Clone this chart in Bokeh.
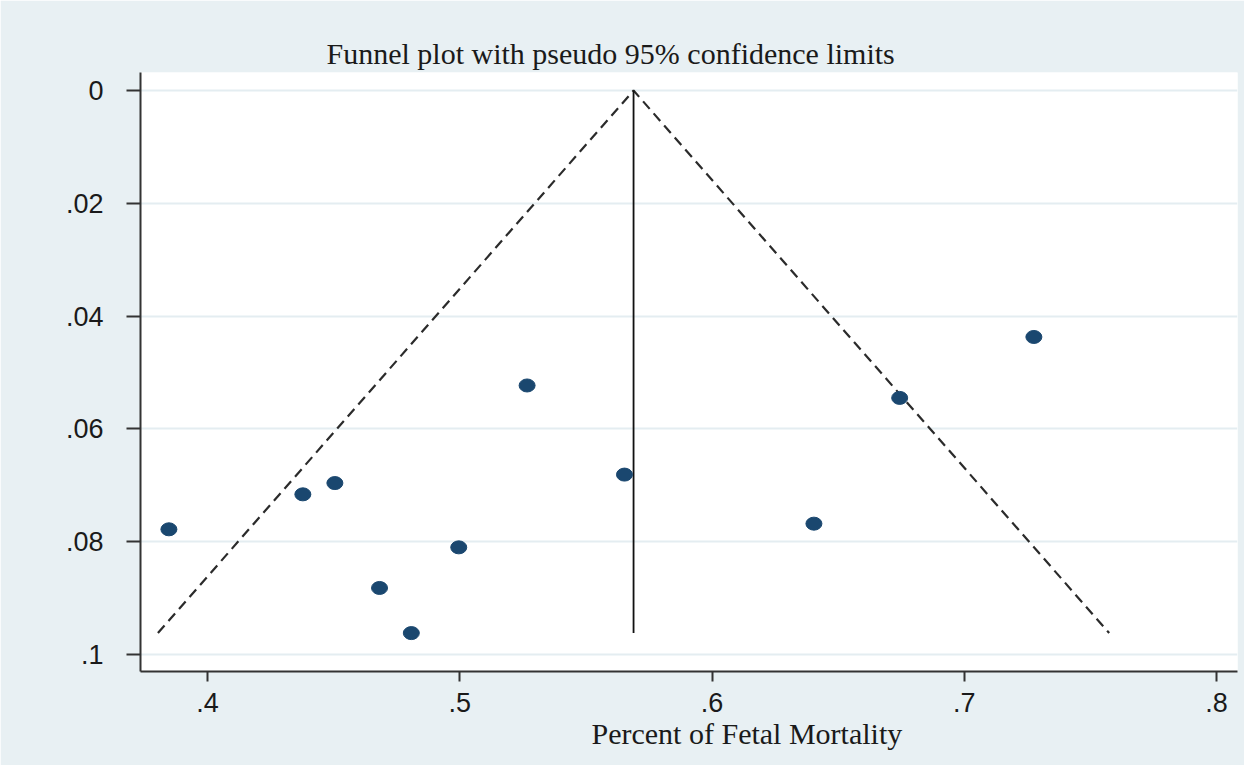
from bokeh.plotting import figure
from bokeh.models import Range1d, FixedTicker, Title
from bokeh.embed import file_html
from bokeh.resources import INLINE

# ---- data ----
effect = [0.3847, 0.4378, 0.4505, 0.4682, 0.4808, 0.4996, 0.5267, 0.5653, 0.6404, 0.6744, 0.7276]
se = [0.0778, 0.0716, 0.0696, 0.0882, 0.0962, 0.0810, 0.0523, 0.0681, 0.0768, 0.0545, 0.0437]
pooled = 0.5689
x_ticks = [0.4, 0.5, 0.6, 0.7, 0.8]
x_tick_labels = [".4", ".5", ".6", ".7", ".8"]
y_ticks = [0.0, 0.02, 0.04, 0.06, 0.08, 0.1]
y_tick_labels = ["0", ".02", ".04", ".06", ".08", ".1"]
title_text = "Funnel plot with pseudo 95% confidence limits"
x_label_text = "Percent of Fetal Mortality"

se_max = max(se)
lo_end = pooled - 1.96 * se_max
hi_end = pooled + 1.96 * se_max

BG = "#e8f0f3"
INK = "#1a1a1a"

p = figure(width=1244, height=765, output_backend="svg", toolbar_location=None,
           x_range=Range1d(0.37344, 0.80832), y_range=Range1d(0.10301, -0.003191),
           min_border_left=140, min_border_right=7, min_border_top=72, min_border_bottom=94)
p.title = None
p.background_fill_color = "white"
p.border_fill_color = BG
p.outline_line_color = None

# grid
p.xgrid.grid_line_color = None
p.ygrid.grid_line_color = "#e4edf1"
p.ygrid.grid_line_width = 2
p.ygrid.ticker = FixedTicker(ticks=y_ticks)

# axes
p.xaxis.ticker = FixedTicker(ticks=x_ticks)
p.yaxis.ticker = FixedTicker(ticks=y_ticks)
p.xaxis.major_label_overrides = dict(zip(x_ticks, x_tick_labels))
p.yaxis.major_label_overrides = dict(zip(y_ticks, y_tick_labels))
for ax in (p.xaxis[0], p.yaxis[0]):
    ax.axis_line_color = "#333333"
    ax.axis_line_width = 2
    ax.major_tick_line_color = "#333333"
    ax.major_tick_line_width = 2
    ax.major_tick_in = 0
    ax.minor_tick_line_color = None
    ax.major_label_text_font = "Liberation Sans"
    ax.major_label_text_font_size = "27px"
    ax.major_label_text_color = INK
p.xaxis.major_tick_out = 10
p.xaxis.major_label_standoff = 11
p.yaxis.major_tick_out = 14
p.yaxis.major_label_standoff = 23
p.yaxis.major_label_orientation = "horizontal"

# funnel lines
p.line([lo_end, pooled, hi_end], [se_max, 0, se_max], line_color="#2b2b2b",
       line_width=2.2, line_dash="10 6")
p.line([pooled, pooled], [0, se_max], line_color="#111111", line_width=1.8)

# studies
p.ellipse(x=effect, y=se, width=16, height=13, width_units="screen", height_units="screen",
          fill_color="#1a476f", line_color="#1a476f")

# title and x label
t = Title(text=title_text, align="left", offset=186, standoff=5,
          text_font="Liberation Serif", text_font_size="30px", text_font_style="normal",
          text_color=INK)
p.add_layout(t, "above")
xl = Title(text=x_label_text, align="left", offset=451, standoff=0,
           text_font="Liberation Serif", text_font_size="30px", text_font_style="normal",
           text_color=INK)
p.add_layout(xl, "below")

open("out.html", "w").write(file_html(p, INLINE))
